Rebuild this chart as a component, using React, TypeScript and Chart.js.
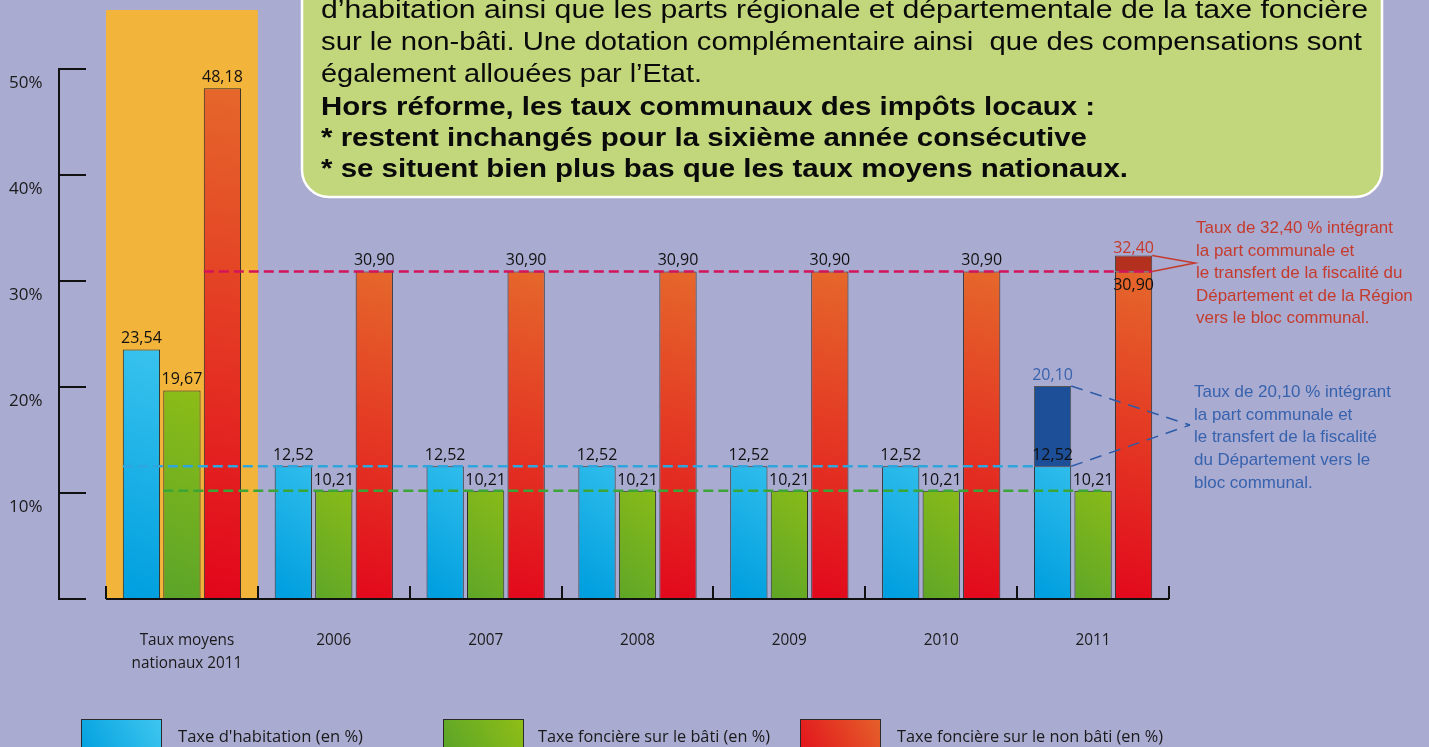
import React, { useEffect, useRef } from 'react';
import { Chart, registerables } from 'chart.js';

Chart.register(...registerables);

// ---------- DATA ----------
const categoryLabels: string[][] = [
  ['Taux moyens', 'nationaux 2011'],
  ['2006'],
  ['2007'],
  ['2008'],
  ['2009'],
  ['2010'],
  ['2011'],
];
const habitation = [23.54, 12.52, 12.52, 12.52, 12.52, 12.52, 12.52];
const foncierBati = [19.67, 10.21, 10.21, 10.21, 10.21, 10.21, 10.21];
const foncierNonBati = [48.18, 30.9, 30.9, 30.9, 30.9, 30.9, 30.9];
const habitationReformTotal = [null, null, null, null, null, null, 20.1];
const nonBatiReformTotal = [null, null, null, null, null, null, 32.4];
const yTickValues = [0, 10, 20, 30, 40, 50];
const yTickLabels = ['', '10%', '20%', '30%', '40%', '50%'];
const legendLabels = [
  "Taxe d'habitation (en %)",
  'Taxe foncière sur le bâti (en %)',
  'Taxe foncière sur le non bâti (en %)',
];
const boxLines = [
  { text: 'd’habitation ainsi que les parts régionale et départementale de la taxe foncière', bold: false },
  { text: 'sur le non-bâti. Une dotation complémentaire ainsi  que des compensations sont', bold: false },
  { text: 'également allouées par l’Etat.', bold: false },
  { text: 'Hors réforme, les taux communaux des impôts locaux :', bold: true },
  { text: '* restent inchangés pour la sixième année consécutive', bold: true },
  { text: '* se situent bien plus bas que les taux moyens nationaux.', bold: true },
];
const redNote = [
  'Taux de 32,40 % intégrant',
  'la part communale et',
  'le transfert de la fiscalité du',
  'Département et de la Région',
  'vers le bloc communal.',
];
const blueNote = [
  'Taux de 20,10 % intégrant',
  'la part communale et',
  'le transfert de la fiscalité',
  'du Département vers le',
  'bloc communal.',
];

// ---------- STYLE ----------
const BG = '#aaabd1';
const ORANGE_BAND = '#f2b43b';
const BOX_GREEN = '#c2d67b';
const RED_TEXT = '#c43b2d';
const BLUE_TEXT = '#3762ad';
const LABEL_FONT = '"Open Sans", "DejaVu Sans", sans-serif';
const HELV = '"Liberation Sans", Arial, sans-serif';

const fmt = (v: number) => v.toFixed(2).replace('.', ',');

function drawText(
  ctx: CanvasRenderingContext2D,
  text: string,
  x: number,
  y: number,
  font: string,
  color: string,
  opts: { align?: CanvasTextAlign; width?: number; scaleX?: number } = {}
) {
  ctx.save();
  ctx.font = font;
  ctx.fillStyle = color;
  ctx.textBaseline = 'alphabetic';
  ctx.textAlign = opts.align || 'left';
  let sx = opts.scaleX ?? 1;
  if (opts.width) sx = opts.width / ctx.measureText(text).width;
  ctx.translate(x, y);
  ctx.scale(sx, 1);
  ctx.fillText(text, 0, 0);
  ctx.restore();
}

function measure(ctx: CanvasRenderingContext2D, text: string, font: string) {
  ctx.save();
  ctx.font = font;
  const w = ctx.measureText(text).width;
  ctx.restore();
  return w;
}

function barGradient(kind: 'blue' | 'green' | 'red') {
  const stops: Record<string, [string, string]> = {
    blue: ['#3ec6ef', '#009fdf'],
    green: ['#8fbe16', '#58a32a'],
    red: ['#e5672b', '#e2031b'],
  };
  return (c: any) => {
    const chart = c.chart;
    const [top, bottom] = stops[kind];
    const area = chart.chartArea;
    const ys = chart.scales?.y;
    const xs = chart.scales?.x;
    if (!area || !ys || !xs || c.parsed == null || c.parsed.y == null) return bottom;
    const yTop = ys.getPixelForValue(c.parsed.y);
    const yBot = ys.getPixelForValue(0);
    const cx = xs.getPixelForValue(c.dataIndex);
    const g = chart.ctx.createLinearGradient(cx + 45, yTop, cx - 45, yBot);
    g.addColorStop(0, top);
    g.addColorStop(1, bottom);
    return g;
  };
}

const infoPlugin = {
  id: 'infographic',
  beforeDraw(chart: any) {
    const { ctx, chartArea: a, scales } = chart;
    const x = scales.x;
    const y = scales.y;
    ctx.save();
    ctx.fillStyle = BG;
    ctx.fillRect(0, 0, chart.width, chart.height);

    // orange band behind national averages
    const catW = (a.right - a.left) / categoryLabels.length;
    const c0 = x.getPixelForValue(0);
    ctx.fillStyle = ORANGE_BAND;
    ctx.fillRect(c0 - catW / 2, 10, catW, a.bottom - 10);

    // text box
    const bx = 302, by = -40, bw = 1080, bh = 237, r = 27;
    ctx.beginPath();
    ctx.moveTo(bx + r, by);
    ctx.lineTo(bx + bw - r, by);
    ctx.arcTo(bx + bw, by, bx + bw, by + r, r);
    ctx.lineTo(bx + bw, by + bh - r);
    ctx.arcTo(bx + bw, by + bh, bx + bw - r, by + bh, r);
    ctx.lineTo(bx + r, by + bh);
    ctx.arcTo(bx, by + bh, bx, by + bh - r, r);
    ctx.lineTo(bx, by + r);
    ctx.arcTo(bx, by, bx + r, by, r);
    ctx.closePath();
    ctx.fillStyle = BOX_GREEN;
    ctx.fill();
    ctx.strokeStyle = '#ffffff';
    ctx.lineWidth = 2.5;
    ctx.stroke();

    const lineEnds = [1368, 1362, 702, 1095, 1087, 1128];
    const baselines = [18, 50, 82, 115, 146, 177];
    boxLines.forEach((l, i) => {
      const font = (l.bold ? 'bold ' : '') + '25px ' + HELV;
      drawText(ctx, l.text, 321, baselines[i], font, '#0a0a0a', { width: lineEnds[i] - 321 });
    });

    // left value axis
    const axX = 59;
    ctx.strokeStyle = '#111';
    ctx.lineWidth = 2;
    ctx.beginPath();
    ctx.moveTo(axX, y.getPixelForValue(yTickValues[yTickValues.length - 1]));
    ctx.lineTo(axX, y.getPixelForValue(yTickValues[0]) + 1);
    ctx.stroke();
    yTickValues.forEach((v, i) => {
      const py = Math.round(y.getPixelForValue(v));
      ctx.beginPath();
      ctx.moveTo(axX - 1, py);
      ctx.lineTo(86, py);
      ctx.stroke();
      if (yTickLabels[i]) drawText(ctx, yTickLabels[i], 9, py + 19, '17px ' + LABEL_FONT, '#1a1a1a');
    });
    ctx.restore();
  },
  afterDatasetsDraw(chart: any) {
    const { ctx, chartArea: a, scales } = chart;
    const x = scales.x;
    const y = scales.y;
    const metaHab = chart.getDatasetMeta(0);
    const metaBati = chart.getDatasetMeta(1);
    const metaNon = chart.getDatasetMeta(2);
    const metaHabR = chart.getDatasetMeta(3);
    const metaNonR = chart.getDatasetMeta(4);
    const last = categoryLabels.length - 1;
    ctx.save();

    // dashed reference lines
    const dashed = (yv: number, x1: number, x2: number, color: string) => {
      ctx.save();
      ctx.strokeStyle = color;
      ctx.lineWidth = 2.5;
      ctx.setLineDash([10, 5]);
      ctx.beginPath();
      const py = y.getPixelForValue(yv);
      ctx.moveTo(x1, py);
      ctx.lineTo(x2, py);
      ctx.stroke();
      ctx.restore();
    };
    const left = (el: any) => el.x - el.width / 2;
    const right = (el: any) => el.x + el.width / 2;
    dashed(foncierNonBati[1], left(metaNon.data[0]), right(metaNon.data[last]), '#d3145a');
    dashed(habitation[1], left(metaHab.data[0]), left(metaHab.data[last]), '#2ea6dd');
    dashed(foncierBati[1], left(metaBati.data[0]), right(metaBati.data[last]) - 10, '#3ba636');

    // value labels
    const lf = '16px ' + LABEL_FONT;
    metaHab.data.forEach((el: any, i: number) => {
      drawText(ctx, fmt(habitation[i]), el.x, el.y - 6, lf, '#111', { align: 'center' });
    });
    metaBati.data.forEach((el: any, i: number) => {
      drawText(ctx, fmt(foncierBati[i]), el.x, el.y - 6, lf, '#111', { align: 'center' });
    });
    metaNon.data.forEach((el: any, i: number) => {
      if (i === last && nonBatiReformTotal[i] != null) {
        drawText(ctx, fmt(foncierNonBati[i]), el.x, el.y + 19, lf, '#111', { align: 'center' });
      } else {
        drawText(ctx, fmt(foncierNonBati[i]), el.x, el.y - 6, lf, '#111', { align: 'center' });
      }
    });
    const hr = metaHabR.data[last];
    const nr = metaNonR.data[last];
    if (hr && habitationReformTotal[last] != null) {
      drawText(ctx, fmt(habitationReformTotal[last] as number), hr.x, hr.y - 6, lf, BLUE_TEXT, { align: 'center' });
    }
    if (nr && nonBatiReformTotal[last] != null) {
      drawText(ctx, fmt(nonBatiReformTotal[last] as number), nr.x, nr.y - 3, lf, RED_TEXT, { align: 'center' });
    }

    // connectors
    if (nr) {
      ctx.save();
      ctx.strokeStyle = RED_TEXT;
      ctx.lineWidth = 1.5;
      ctx.beginPath();
      ctx.moveTo(right(nr), nr.y);
      ctx.lineTo(1195, 263);
      ctx.lineTo(right(nr), nr.base);
      ctx.stroke();
      ctx.restore();
    }
    if (hr) {
      ctx.save();
      ctx.strokeStyle = '#2d5ba8';
      ctx.lineWidth = 1.5;
      ctx.setLineDash([12, 8]);
      ctx.beginPath();
      ctx.moveTo(right(hr), hr.y);
      ctx.lineTo(1190, 425);
      ctx.stroke();
      ctx.beginPath();
      ctx.moveTo(right(hr), hr.base);
      ctx.lineTo(1190, 425);
      ctx.stroke();
      ctx.restore();
    }

    // annotation texts
    const nf = '17px ' + HELV;
    const sR = 197 / measure(ctx, redNote[0], nf);
    redNote.forEach((t, i) => drawText(ctx, t, 1196, 233 + i * 22.5, nf, RED_TEXT, { scaleX: sR }));
    const sB = 197 / measure(ctx, blueNote[0], nf);
    blueNote.forEach((t, i) => drawText(ctx, t, 1194, 397 + i * 22.7, nf, BLUE_TEXT, { scaleX: sB }));

    // category axis
    const catW = (a.right - a.left) / categoryLabels.length;
    ctx.strokeStyle = '#111';
    ctx.lineWidth = 2;
    ctx.beginPath();
    ctx.moveTo(a.left, a.bottom);
    ctx.lineTo(a.right, a.bottom);
    ctx.stroke();
    for (let i = 0; i <= categoryLabels.length; i++) {
      const px = Math.round(a.left + i * catW);
      ctx.beginPath();
      ctx.moveTo(px, a.bottom);
      ctx.lineTo(px, a.bottom - 13);
      ctx.stroke();
    }
    categoryLabels.forEach((lines, i) => {
      const cx = x.getPixelForValue(i);
      lines.forEach((t, j) => {
        drawText(ctx, t, cx + (i === 0 ? 5 : 0), 645 + j * 23, '17px ' + LABEL_FONT, '#1a1a1a', { align: 'center', scaleX: 0.9 });
      });
    });

    // legend
    const boxX = [81, 443, 800];
    const textX = [178, 538, 897];
    const textW = [185, 232, 266];
    const legendStops: [string, string][] = [
      ['#009fdf', '#3ec6ef'],
      ['#58a32a', '#8fbe16'],
      ['#e2101c', '#e5602a'],
    ];
    legendLabels.forEach((t, i) => {
      const bx0 = boxX[i];
      const g = ctx.createLinearGradient(bx0, 760, bx0 + 80, 719);
      g.addColorStop(0, legendStops[i][0]);
      g.addColorStop(1, legendStops[i][1]);
      ctx.fillStyle = g;
      ctx.fillRect(bx0, 719, 80, 40);
      ctx.strokeStyle = '#2a2a2a';
      ctx.lineWidth = 1;
      ctx.strokeRect(bx0 + 0.5, 719.5, 80, 40);
      drawText(ctx, t, textX[i], 742, '16px ' + LABEL_FONT, '#1a1a1a', { width: textW[i] });
    });

    ctx.restore();
  },
};

export default function App() {
  const ref = useRef<HTMLCanvasElement | null>(null);
  useEffect(() => {
    let chart: Chart | null = null;
    let cancelled = false;
    const make = () => {
      if (cancelled || !ref.current) return;
      const reformHab = habitationReformTotal.map((v, i) => (v == null ? null : +(v - habitation[i]).toFixed(2)));
      const reformNon = nonBatiReformTotal.map((v, i) => (v == null ? null : +(v - foncierNonBati[i]).toFixed(2)));
      chart = new Chart(ref.current, {
        type: 'bar',
        data: {
          labels: categoryLabels.map((l) => l.join(' ')),
          datasets: [
            { label: legendLabels[0], data: habitation, stack: 'hab', backgroundColor: barGradient('blue'), borderColor: '#2b2b2b', borderWidth: 1 },
            { label: legendLabels[1], data: foncierBati, stack: 'bati', backgroundColor: barGradient('green'), borderColor: '#2b2b2b', borderWidth: 1 },
            { label: legendLabels[2], data: foncierNonBati, stack: 'non', backgroundColor: barGradient('red'), borderColor: '#2b2b2b', borderWidth: 1 },
            { label: 'hab reform', data: reformHab as any, stack: 'hab', backgroundColor: '#1d4f99', borderColor: '#555', borderWidth: 1 },
            { label: 'non reform', data: reformNon as any, stack: 'non', backgroundColor: '#b3301f', borderColor: '#444', borderWidth: 1 },
          ],
        },
        options: {
          responsive: false,
          animation: false,
          layout: { padding: { left: 106, right: 260, top: 69, bottom: 148 } },
          plugins: { legend: { display: false }, tooltip: { enabled: false }, title: { display: false } },
          scales: {
            x: { display: false, stacked: true },
            y: { display: false, stacked: true, min: 0, max: 50 },
          },
          datasets: { bar: { categoryPercentage: 0.8, barPercentage: 0.92 } },
        } as any,
        plugins: [infoPlugin as any],
      });
    };
    const fonts = ['16px "Open Sans"', '17px "Open Sans"', '25px "Liberation Sans"', 'bold 25px "Liberation Sans"'];
    const fl = (document as any).fonts;
    if (fl && fl.load) {
      Promise.all(fonts.map((f) => fl.load(f))).then(make, make);
    } else make();
    return () => {
      cancelled = true;
      if (chart) chart.destroy();
    };
  }, []);
  return (
    <div style={{ position: 'fixed', left: 0, top: 0, width: 1429, height: 747, overflow: 'hidden', background: BG }}>
      <canvas ref={ref} width={1429} height={747} style={{ display: 'block', width: 1429, height: 747 }} />
    </div>
  );
}
